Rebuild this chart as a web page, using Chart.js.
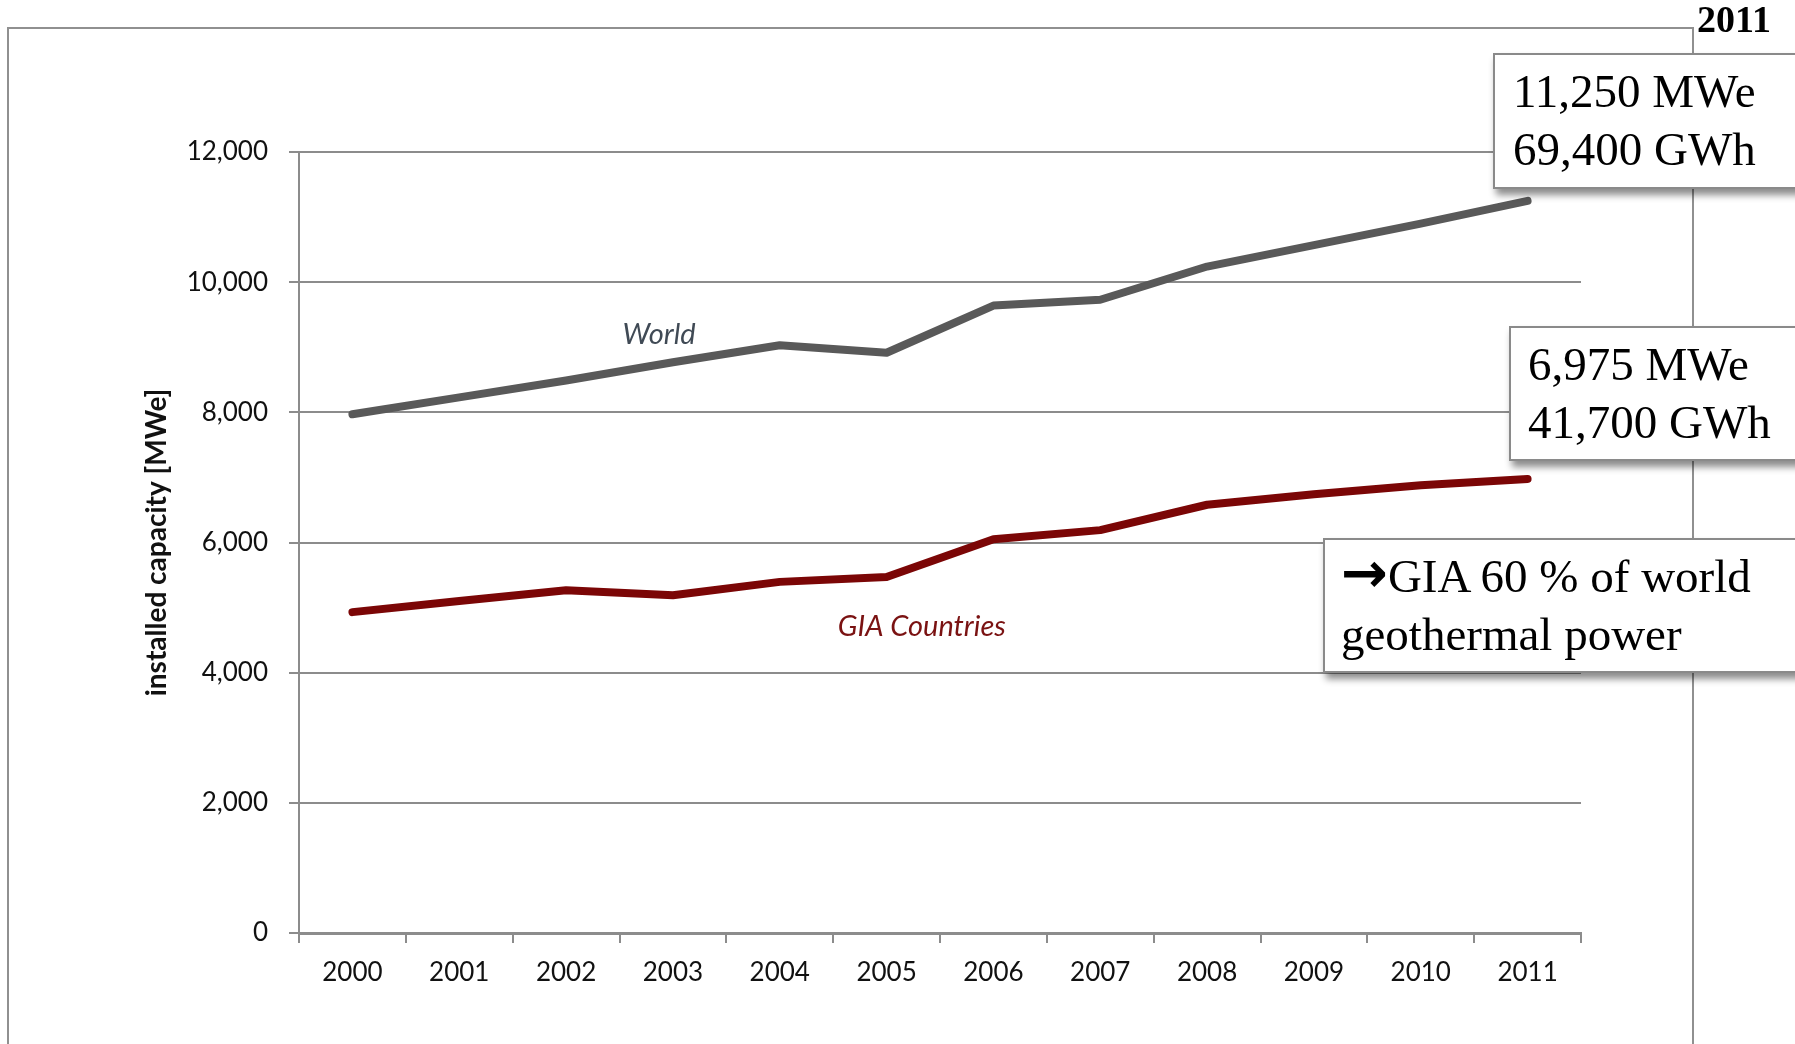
<!DOCTYPE html>
<html>
<head>
<meta charset="utf-8">
<script src="https://cdn.jsdelivr.net/npm/chart.js@4.4.1/dist/chart.umd.min.js"></script>
<style>
  html, body { margin: 0; padding: 0; background: #fff; overflow: hidden; }
  #wrap { position: relative; width: 1795px; height: 1044px; }
  #frame { position: absolute; left: 7px; top: 27px; width: 1683px; height: 1100px; border: 2px solid #909090; }
  canvas { position: absolute; left: 0; top: 0; }
  .box {
    position: absolute; background: #fff; border: 2px solid #8a8a8a;
    box-shadow: 3px 6px 7px rgba(0,0,0,0.45);
    font-family: "Liberation Serif", serif; font-size: 47px; line-height: 58px; color: #000;
    white-space: nowrap; box-sizing: border-box;
  }
  .flecha { font-family: "DejaVu Sans", sans-serif; font-size: 56px; font-weight: bold; line-height: 0; }
  #b1 { left: 1493px; top: 53px; width: 340px; height: 136px; padding: 7px 0 0 18px; }
  #b2 { left: 1509px; top: 326px; width: 330px; height: 135px; padding: 7px 0 0 17px; }
  #b3 { left: 1323px; top: 538px; width: 520px; height: 135px; padding: 7px 0 0 16px; }
  #yr { position: absolute; left: 1697px; top: -3px; font-family: "Liberation Serif", serif; font-weight: bold; font-size: 38px; }
</style>
</head>
<body>
<div id="wrap">
  <div id="frame"></div>
  <canvas id="grafico" width="1795" height="1044"></canvas>
  <div id="yr">2011</div>
  <div class="box" id="b1">11,250 MWe<br>69,400 GWh</div>
  <div class="box" id="b2">6,975 MWe<br>41,700 GWh</div>
  <div class="box" id="b3"><span class="flecha">&#8594;</span>GIA 60 % of world<br>geothermal power</div>
</div>
<script>
// years and installed capacity [MWe]
let anios = ["2000", "2001", "2002", "2003", "2004", "2005", "2006", "2007", "2008", "2009", "2010", "2011"];
let mundo = [7970, 8230, 8490, 8770, 9030, 8915, 9640, 9730, 10240, 10570, 10900, 11250];
let paisesGIA = [4930, 5100, 5265, 5190, 5395, 5470, 6050, 6190, 6580, 6740, 6880, 6975];
let ticksY = [0, 2000, 4000, 6000, 8000, 10000, 12000];

let gris = "#8c8c8c";

// etiquetas de las series dentro del grafico
let etiquetas = {
  id: "etiquetas",
  afterDatasetsDraw(chart) {
    let ctx = chart.ctx;
    let x = chart.scales.x, y = chart.scales.y;
    ctx.save();
    ctx.font = "italic 29px Lato";
    ctx.textAlign = "center";
    ctx.textBaseline = "middle";
    ctx.fillStyle = "#404a55";
    ctx.fillText("World", x.getPixelForValue(2.87), y.getPixelForValue(9200));
    ctx.fillStyle = "#7a1212";
    ctx.fillText("GIA Countries", x.getPixelForValue(5.33), y.getPixelForValue(4700));
    ctx.restore();
  }
};

new Chart(document.getElementById("grafico").getContext("2d"), {
  type: "line",
  data: {
    labels: anios,
    datasets: [
      { label: "World", data: mundo, borderColor: "#595959", borderWidth: 8 },
      { label: "GIA Countries", data: paisesGIA, borderColor: "#7b0606", borderWidth: 8 }
    ]
  },
  options: {
    responsive: false,
    animation: false,
    devicePixelRatio: 1,
    layout: { padding: { left: 0, top: 152, right: 214, bottom: 0 } },
    elements: {
      point: { radius: 0 },
      line: { tension: 0, borderCapStyle: "round", borderJoinStyle: "round", fill: false }
    },
    plugins: { legend: { display: false }, tooltip: { enabled: false } },
    scales: {
      x: {
        offset: true,
        afterFit: s => { s.height = 111; },
        grid: { drawOnChartArea: false, offset: true, tickLength: 10, color: gris, lineWidth: 2 },
        border: { display: true, color: gris, width: 3 },
        ticks: { color: "#111", font: { family: "Lato", size: 26 }, padding: 14, maxRotation: 0 }
      },
      y: {
        min: 0, max: 12000,
        afterFit: s => { s.width = 299; },
        afterBuildTicks: s => { s.ticks = ticksY.map(v => ({ value: v })); },
        grid: { color: gris, lineWidth: 2, tickLength: 10 },
        border: { display: true, color: gris, width: 2 },
        ticks: {
          color: "#111", font: { family: "Lato", size: 26 }, padding: 21,
          callback: v => v.toLocaleString("en-US")
        },
        title: {
          display: true, text: "installed capacity [MWe]", color: "#111",
          font: { family: "Lato", size: 28, weight: "bold" }, padding: { top: 140, bottom: 0 }
        }
      }
    }
  },
  plugins: [etiquetas]
});
</script>
</body>
</html>
